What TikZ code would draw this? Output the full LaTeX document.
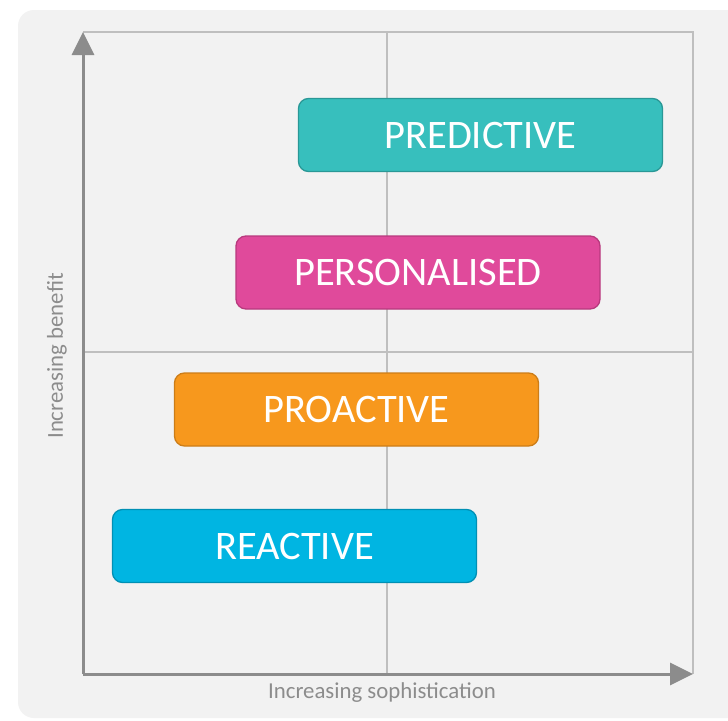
\documentclass[tikz,border=0pt]{standalone}
\usepackage{fontspec}
\setmainfont{Carlito}
\usetikzlibrary{arrows.meta}
\definecolor{bgc}{HTML}{F2F2F2}
\definecolor{framec}{HTML}{BFBFBF}
\definecolor{axisc}{HTML}{8C8C8C}
\definecolor{labelc}{HTML}{8C8C8C}
\definecolor{predc}{HTML}{37BFBD}
\definecolor{predb}{HTML}{2A9896}
\definecolor{persc}{HTML}{E04A9B}
\definecolor{persb}{HTML}{B83A7E}
\definecolor{proc}{HTML}{F7981D}
\definecolor{prob}{HTML}{CC7D18}
\definecolor{reac}{HTML}{00B5E2}
\definecolor{reab}{HTML}{0090B4}
\tikzset{
  stagebox/.style={rounded corners=10pt, line width=1.3pt, minimum height=73pt,
    minimum width=364pt, inner sep=0pt, text=white,
    font=\fontsize{40.5}{48}\selectfont},
  framelines/.style={draw=framec, line width=2pt},
  axisline/.style={draw=axisc, line width=3pt,
    -{Triangle[length=23pt,width=22pt]}},
  axislabel/.style={text=labelc, font=\fontsize{22.8}{27}\selectfont, inner sep=0pt}
}
\begin{document}
\begin{tikzpicture}[x=1pt,y=-1pt]
\useasboundingbox (0,0) rectangle (728,720);
\fill[white] (0,0) rectangle (728,720);
\fill[bgc, rounded corners=16pt] (18,10) rectangle (760,718);
\coordinate (O) at (83,674);
\coordinate (TL) at (83,32);
\coordinate (TR) at (693,32);
\coordinate (BR) at (693,674);
\coordinate (MT) at (387,32);
\coordinate (MB) at (387,674);
\coordinate (ML) at (83,352);
\coordinate (MR) at (693,352);
\draw[framelines] (TL) -- (TR) -- (BR);
\draw[framelines] (MT) -- (MB);
\draw[framelines] (ML) -- (MR);
\draw[axisline] (O) -- (TL);
\draw[axisline] (O) -- (BR);
\node[stagebox, fill=predc, draw=predb] (pred) at (480.5,135) {PREDICTIVE};
\node[stagebox, fill=persc, draw=persb] (pers) at (418,272.5) {PERSONALISED};
\node[stagebox, fill=proc, draw=prob] (pro) at (356.5,409.5) {PROACTIVE};
\node[stagebox, fill=reac, draw=reab] (rea) at (294.5,546) {REACTIVE};
\node[axislabel] (xl) at (382,693) {Increasing sophistication};
\node[axislabel, rotate=90] (yl) at (57,356) {Increasing benefit};
\end{tikzpicture}
\end{document}
